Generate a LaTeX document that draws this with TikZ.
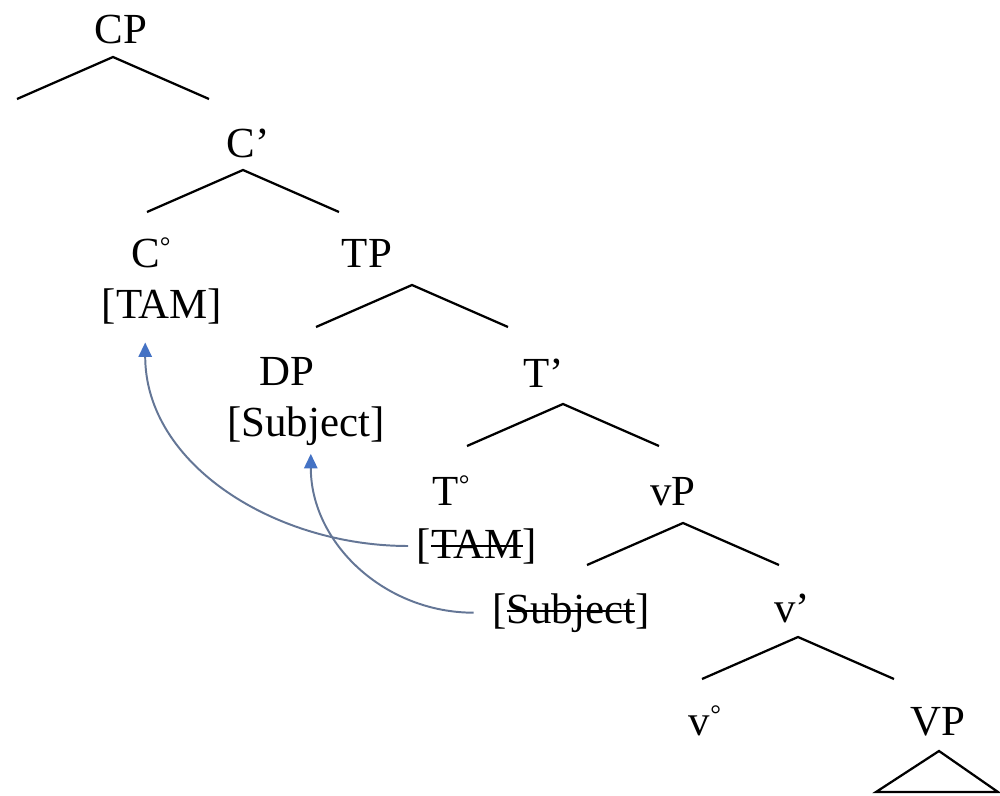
\documentclass[tikz,border=0pt]{standalone}
\usepackage{fontspec}
\setmainfont{Liberation Serif}
\usetikzlibrary{arrows.meta}
\definecolor{movegray}{RGB}{100,118,150}
\definecolor{tipblue}{RGB}{68,114,196}
\newcommand{\struck}[1]{\setbox0\hbox{#1}\rlap{\rule[0.26em]{\wd0}{0.05em}}\box0}
\newcommand{\hd}{\raisebox{0.27em}{\fontsize{19}{19}\selectfont °}}
\begin{document}
\begin{tikzpicture}[x=0.025cm, y=-0.025cm,
    word/.style={anchor=base, inner sep=6pt, font=\fontsize{30.5}{36}\selectfont},
    branch/.style={line width=1.6pt},
    move/.style={movegray, line width=1.4pt, -{Triangle[length=0.36cm, width=0.33cm, color=tipblue]}}]
  \useasboundingbox (0,0) rectangle (1000,796);
  \def\drawBranch#1#2#3{
    \coordinate (#1-top) at (#2,#3);
    \coordinate (#1-l) at (#2-96,#3+42);
    \coordinate (#1-r) at (#2+96,#3+42);
    \draw[branch] (#1-l)--(#1-top)--(#1-r);}

  \node[word] (cp) at (121,43) {CP};
  \node[word] (cbar) at (248,157) {C’};
  \node[word] (chead) at (151,267) {C\hd};
  \node[word] (tam) at (162,318) {[TAM]};
  \node[word] (tp) at (367,267) {TP};
  \node[word] (dp) at (287,385) {DP};
  \node[word] (subj) at (306,436) {[Subject]};
  \node[word] (tbar) at (544,387) {T’};
  \node[word] (thead) at (451,505) {T\hd};
  \node[word] (ttam) at (477,558) {[\struck{TAM}]};
  \node[word] (vp) at (673,505) {vP};
  \node[word] (tsubj) at (571,623) {[\struck{Subject}]};
  \node[word] (vbar) at (792,622) {v’};
  \node[word] (vhead) at (705,735) {v\hd};
  \node[word] (vpp) at (938,735) {VP};

  \drawBranch{cp}{113}{57}
  \drawBranch{cbar}{243}{170}
  \drawBranch{tp}{412}{285}
  \drawBranch{tbar}{563}{404}
  \drawBranch{vp}{683}{523}
  \drawBranch{vbar}{798}{637}

  % triangle under VP
  \draw[branch] (939,751)--(876,792)--(998,792)--cycle;

  % movement
  \draw[move, shorten >=0.25cm] (ttam.west) to[out=180, in=-90, looseness=1] ([xshift=-0.42cm]tam.south);
  \draw[move] ([xshift=-0.25cm]tsubj.west) to[out=180, in=-90, looseness=1] ([xshift=0.12cm]subj.south);
\end{tikzpicture}
\end{document}
